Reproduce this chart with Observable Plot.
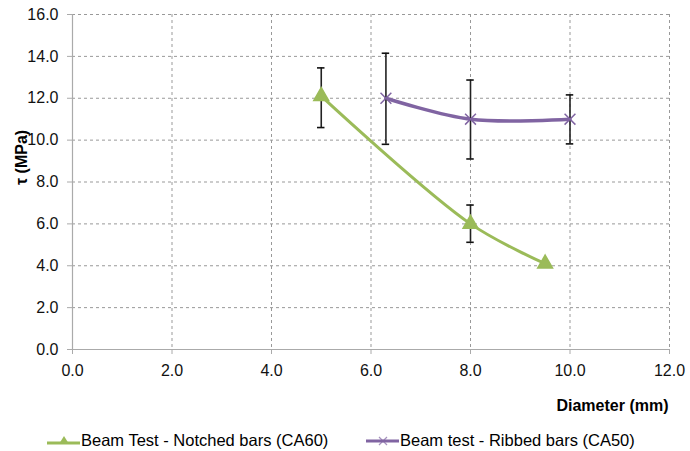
<!DOCTYPE html>
<html><head><meta charset="utf-8">
<script src="https://cdn.jsdelivr.net/npm/d3@7"></script>
<script src="https://cdn.jsdelivr.net/npm/@observablehq/plot@0.6"></script>
<style>
body{margin:0;background:#fff;font-family:"Liberation Sans",Arial,sans-serif;}
#wrap{position:relative;width:690px;height:451px;}
#legend{position:absolute;left:0;top:431px;width:690px;height:20px;font-size:16.5px;color:#000;}
.item{position:absolute;top:0;display:flex;align-items:center;white-space:nowrap;}
</style></head>
<body><div id="wrap"><div id="chart"></div><div id="legend"></div></div>
<script>
const notchedX = [5.0, 8.0, 9.5];
const notchedY = [12.1, 6.0, 4.1];
const notchedLo = [10.6, 5.12, null];
const notchedHi = [13.45, 6.9, null];
const ribbedX = [6.3, 8.0, 10.0];
const ribbedY = [12.0, 11.0, 11.0];
const ribbedLo = [9.8, 9.1, 9.82];
const ribbedHi = [14.15, 12.87, 12.16];
const xTicks = [0, 2, 4, 6, 8, 10, 12];
const yTicks = [0, 2, 4, 6, 8, 10, 12, 14, 16];
const seriesNames = ["Beam Test - Notched bars (CA60)", "Beam test - Ribbed bars (CA50)"];
const colors = ["#9BBB59", "#8064A2"];

const notched = notchedX.map((x, i) => ({x, y: notchedY[i], lo: notchedLo[i], hi: notchedHi[i]}));
const ribbed = ribbedX.map((x, i) => ({x, y: ribbedY[i], lo: ribbedLo[i], hi: ribbedHi[i]}));
const errs = [...notched, ...ribbed].filter(d => d.lo != null);
const cap = 0.075;

const plot = Plot.plot({
  width: 690, height: 425,
  marginLeft: 72, marginRight: 21, marginTop: 14, marginBottom: 76,
  style: {fontFamily: '"Liberation Sans", Arial, sans-serif', fontSize: "16px", color: "#000", background: "#fff", overflow: "visible"},
  x: {domain: [0, 12]},
  y: {domain: [0, 16]},
  marks: [
    Plot.gridX(xTicks.slice(1), {stroke: "#999", strokeOpacity: 1, strokeDasharray: "3,3"}),
    Plot.gridY(yTicks.slice(1), {stroke: "#999", strokeOpacity: 1, strokeDasharray: "3,3"}),
    Plot.ruleX([0], {stroke: "#aaa", strokeWidth: 1.2}),
    Plot.ruleY([0], {stroke: "#aaa", strokeWidth: 1.2}),
    Plot.axisX({ticks: xTicks, tickFormat: d => d.toFixed(1), tickSize: 5, tickPadding: 10, stroke: "#aaa", fill: "#111",
      fontSize: 16, label: null}),
    Plot.axisY({ticks: yTicks, tickFormat: d => d.toFixed(1), tickSize: 5, tickPadding: 9, stroke: "#aaa", fill: "#111",
      fontSize: 16, label: null}),
    Plot.text(["Diameter (mm)"], {frameAnchor: "bottom-right", dy: 61, dx: -1, text: d => d, fontWeight: "bold", fontSize: 16, textAnchor: "end"}),
    Plot.text(["τ (MPa)"], {frameAnchor: "left", dx: -51, dy: 3, rotate: -90, text: d => d, fontWeight: "bold", fontSize: 16}),
    Plot.line(notched, {x: "x", y: "y", stroke: colors[0], strokeWidth: 3, curve: "catmull-rom"}),
    Plot.line(ribbed, {x: "x", y: "y", stroke: colors[1], strokeWidth: 3.5, curve: "catmull-rom"}),
    Plot.ruleX(errs, {x: "x", y1: "lo", y2: "hi", stroke: "#222", strokeWidth: 1.6}),
    Plot.ruleY(errs, {y: "lo", x1: d => d.x - cap, x2: d => d.x + cap, stroke: "#111", strokeWidth: 1.6}),
    Plot.ruleY(errs, {y: "hi", x1: d => d.x - cap, x2: d => d.x + cap, stroke: "#111", strokeWidth: 1.6}),
    Plot.dot(notched, {x: "x", y: "y", symbol: "triangle", r: 5.5, fill: colors[0], stroke: colors[0]}),
    Plot.dot(ribbed, {x: "x", y: "y", symbol: "times", r: 5, stroke: colors[1], strokeWidth: 1.5})
  ]
});
document.getElementById("chart").appendChild(plot);

const lg = document.getElementById("legend");
const lefts = [47, 366];
seriesNames.forEach((name, i) => {
  const it = document.createElement("div");
  it.className = "item";
  it.style.left = lefts[i] + "px";
  const marker = i === 0
    ? `<path d="M17,3 L22,11 L12,11 Z" fill="${colors[0]}"/>`
    : `<path d="M13,4 L21,12 M21,4 L13,12" stroke="${colors[1]}" stroke-width="1.2" fill="none" opacity="0.7"/>`;
  it.innerHTML = `<svg width="33" height="16"><line x1="0" x2="33" y1="${i===0?10:8}" y2="${i===0?10:8}" stroke="${colors[i]}" stroke-width="3"/>${marker}</svg><span style="margin-left:1px">${name}</span>`;
  lg.appendChild(it);
});
</script></body></html>
